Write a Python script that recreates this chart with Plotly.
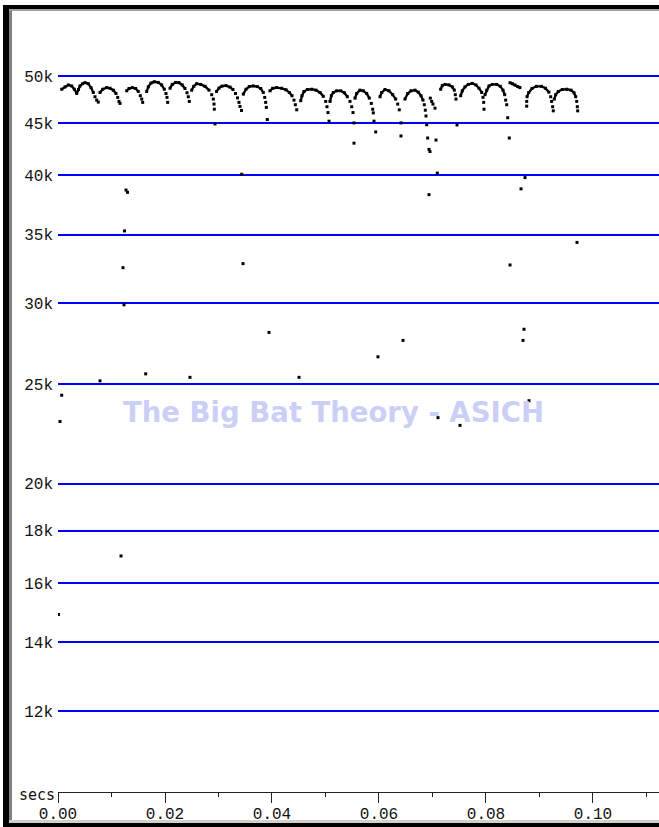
import plotly.graph_objects as go

# ---- data (time in ms, frequency in kHz) ----
# continuous crest parts of each pulse (None separates pulses)
crest_ms = [0.69, 1.31, 1.93, 2.56, 3.05, 3.50, 3.83, 4.11, 4.58, 5.05, 5.66, 6.17, 6.60, None,
            7.85, 8.36, 9.10, 9.72, 10.34, 10.84, None,
            12.84, 13.27, 13.89, 14.52, 15.01, None,
            16.58, 16.88, 17.38, 18.00, 18.75, 19.38, 19.87, None,
            20.94, 21.36, 22.00, 22.62, 23.23, 23.74, None,
            24.99, 25.37, 25.93, 26.67, 27.48, 28.23, None,
            29.63, 30.09, 30.65, 31.40, 32.15, 32.71, None,
            34.64, 35.14, 35.76, 36.51, 37.25, 37.89, 38.37, None,
            39.63, 40.13, 40.88, 41.81, 42.62, 43.24, 43.74, None,
            45.37, 45.61, 45.98, 46.60, 47.42, 48.23, 48.97, 49.59, None,
            50.84, 51.09, 51.46, 52.09, 52.84, 53.52, 54.08, None,
            55.52, 55.83, 56.45, 57.07, 57.70, 58.19, None,
            60.19, 60.51, 61.12, 61.87, 62.56, 63.12, None,
            64.86, 65.37, 65.98, 66.73, 67.35, 67.85, 68.23, None,
            71.53, 71.83, 72.34, 73.09, 73.70, 74.08, None,
            75.27, 75.57, 76.08, 76.69, 77.44, 78.13, 78.69, 79.20, None,
            79.81, 80.13, 80.56, 81.18, 82.00, 82.67, 83.18, 83.50, None,
            84.49, 84.92, 85.42, 85.92, 86.35, None,
            87.67, 87.99, 88.60, 89.43, 90.36, 91.11, 91.77, None,
            92.77, 93.03, 93.52, 94.26, 95.09, 95.89, 96.45, 96.77]
crest_khz = [48.54, 48.80, 49.01, 48.90, 48.54, 48.08, 48.51, 48.90, 49.15, 49.26, 49.15, 48.72, 48.19, None,
             48.19, 48.54, 48.72, 48.65, 48.44, 48.08, None,
             48.37, 48.62, 48.72, 48.62, 48.30, None,
             48.30, 48.80, 49.22, 49.36, 49.29, 49.01, 48.54, None,
             48.65, 49.07, 49.29, 49.26, 49.01, 48.62, None,
             48.44, 48.86, 49.15, 49.07, 48.86, 48.44, None,
             48.30, 48.67, 48.88, 48.94, 48.78, 48.51, None,
             48.01, 48.54, 48.83, 48.90, 48.83, 48.62, 48.19, None,
             48.37, 48.65, 48.72, 48.65, 48.48, 48.19, 47.84, None,
             47.31, 47.84, 48.30, 48.51, 48.54, 48.44, 48.19, 47.77, None,
             47.23, 47.84, 48.19, 48.37, 48.37, 48.16, 47.73, None,
             47.58, 48.08, 48.44, 48.37, 48.08, 47.58, None,
             47.73, 48.19, 48.51, 48.37, 47.95, 47.48, None,
             47.48, 48.08, 48.37, 48.44, 48.22, 47.84, 47.37, None,
             48.54, 48.94, 49.07, 49.01, 48.80, 48.44, None,
             47.84, 48.37, 48.80, 49.07, 49.18, 49.01, 48.65, 48.19, None,
             47.95, 48.44, 48.90, 49.07, 49.07, 48.86, 48.44, 47.95, None,
             49.26, 49.15, 49.01, 48.83, 48.72, None,
             47.73, 48.19, 48.62, 48.86, 48.86, 48.65, 48.22, None,
             47.48, 47.95, 48.30, 48.51, 48.54, 48.44, 48.16, 47.73]

# descending tail dots of each pulse
tail_ms = [6.92, 7.23, 7.53, 11.16, 11.40, 11.59, 15.38, 15.65, 15.83,
           20.19, 20.37, 20.50, 24.11, 24.36, 24.54,
           28.73, 29.03, 29.16, 29.22, 33.18, 33.55, 33.83, 34.02, 34.30,
           38.64, 38.82, 38.94, 39.12, 44.11, 44.36, 44.62,
           50.04, 50.28, 50.47, 50.66, 54.58, 54.90, 55.14, 55.33,
           58.56, 58.82, 58.94, 59.07, 63.50, 63.79, 64.11,
           68.47, 68.66, 68.79, 68.92, 69.59, 69.85, 70.09, 70.47,
           74.26, 74.39, 79.44, 79.57, 79.63, 83.68, 83.87, 84.06,
           87.61, 87.61, 92.09, 92.27, 92.46, 92.58, 96.96, 97.07, 97.14]
tail_khz = [47.73, 47.37, 47.16, 47.66, 47.23, 47.02, 47.84, 47.48, 47.13,
            48.08, 47.66, 47.13, 48.16, 47.73, 47.23,
            47.95, 47.48, 46.95, 46.41, 48.08, 47.61, 47.13, 46.70, 46.28,
            47.66, 47.13, 46.60, 45.35, 47.37, 46.88, 46.35,
            47.23, 46.67, 46.06, 45.18, 47.23, 46.67, 46.06, 45.00,
            47.02, 46.41, 46.03, 45.18, 46.95, 46.35, 45.00,
            46.88, 46.31, 45.71, 44.82, 47.58, 47.23, 46.95, 46.52,
            47.95, 47.48, 47.66, 47.13, 46.41, 47.37, 46.88, 45.53,
            47.23, 46.73, 47.73, 47.23, 46.67, 46.24, 47.23, 46.67, 46.24]

# isolated stray dots
stray_ms = [0.69, 0.37, 0.09, 7.85, 12.71, 12.99, 12.43, 12.15, 12.34, 11.78,
            16.39, 24.67, 29.35, 34.34, 34.58, 39.44, 45.05, 55.33, 59.38, 64.11,
            59.81, 64.49, 69.10, 69.35, 69.53, 70.66, 70.90, 69.35, 71.03, 75.14,
            74.58, 84.36, 84.49, 86.55, 87.30, 87.11, 86.92, 88.04, 97.01]
stray_khz = [24.4, 23.0, 14.9, 25.2, 38.7, 38.5, 35.3, 32.5, 29.9, 17.0,
             25.6, 25.4, 44.9, 40.1, 32.8, 28.1, 25.4, 43.0, 44.1, 43.7,
             26.6, 27.6, 43.5, 42.4, 42.2, 43.3, 40.2, 38.3, 23.2, 22.8,
             44.8, 43.5, 32.7, 38.8, 39.8, 28.3, 27.6, 24.1, 34.4]

x_ticks = [0.00, 0.02, 0.04, 0.06, 0.08, 0.10]
x_ticktext = ["0.00", "0.02", "0.04", "0.06", "0.08", "0.10"]
x_minor = [0.01, 0.03, 0.05, 0.07, 0.09, 0.11]
y_ticks = [12000, 14000, 16000, 18000, 20000, 25000, 30000, 35000, 40000, 45000, 50000]
y_ticktext = ["12k", "14k", "16k", "18k", "20k", "25k", "30k", "35k", "40k", "45k", "50k"]

def sec(v):
    return [None if a is None else a / 1000.0 for a in v]

def hz(v):
    return [None if a is None else a * 1000.0 for a in v]

fig = go.Figure()
fig.add_trace(go.Scatter(x=sec(crest_ms), y=hz(crest_khz), mode="lines+markers",
                         line=dict(color="black", width=2.3),
                         marker=dict(symbol="square", size=3, color="black", line=dict(width=0)),
                         connectgaps=False, hoverinfo="skip", showlegend=False))
fig.add_trace(go.Scatter(x=sec(tail_ms), y=hz(tail_khz), mode="markers",
                         marker=dict(symbol="square", size=3, color="black", line=dict(width=0)),
                         hoverinfo="skip", showlegend=False))
fig.add_trace(go.Scatter(x=sec(stray_ms), y=hz(stray_khz), mode="markers",
                         marker=dict(symbol="square", size=3, color="black", line=dict(width=0)),
                         hoverinfo="skip", showlegend=False))

W, H = 659, 827
L, R, T, B = 58, 0, 11, 35
pw, ph = W - L - R, H - T - B

def px(x):
    return (x - L) / pw

def py(y):
    return (H - B - y) / ph

mono = "Liberation Mono, DejaVu Sans Mono, monospace"

fig.update_layout(
    width=W, height=H, autosize=False,
    margin=dict(l=L, r=R, t=T, b=B, pad=0),
    paper_bgcolor="white", plot_bgcolor="white",
    xaxis=dict(range=[0, 0.11234], showgrid=False, zeroline=False,
               showline=True, linecolor="#222", linewidth=1,
               ticks="outside", ticklen=10, tickwidth=1, tickcolor="#222",
               tickvals=x_ticks, ticktext=x_ticktext, ticklabelstandoff=-3,
               tickfont=dict(family=mono, size=16, color="#111"),
               minor=dict(tickvals=x_minor, ticks="outside", ticklen=4,
                          tickcolor="#222", showgrid=False)),
    yaxis=dict(type="log", range=[4.0, 4.7625], showgrid=True,
               gridcolor="#0000ff", gridwidth=1.5, zeroline=False,
               showline=False, ticks="", ticklabelstandoff=4,
               tickvals=y_ticks, ticktext=y_ticktext,
               tickfont=dict(family=mono, size=16, color="#111")),
    annotations=[
        dict(text="The Big Bat Theory - ASICH", xref="paper", yref="paper",
             x=px(333), y=py(412), xanchor="center", yanchor="middle",
             showarrow=False,
             font=dict(family="DejaVu Sans, Verdana, sans-serif", size=27.5,
                       color="#cbcff6", weight="bold")),
        dict(text="secs", xref="paper", yref="paper", x=px(57), y=py(795),
             xanchor="right", yanchor="middle", showarrow=False,
             font=dict(family="DejaVu Sans Mono, monospace", size=15, color="#111")),
    ],
    shapes=[
        dict(type="rect", xref="paper", yref="paper", x0=px(3), x1=px(9), y0=py(827), y1=py(5),
             fillcolor="black", line=dict(width=0), layer="below"),
        dict(type="rect", xref="paper", yref="paper", x0=px(9), x1=px(12), y0=py(820), y1=py(9),
             fillcolor="#808080", line=dict(width=0), layer="below"),
        dict(type="rect", xref="paper", yref="paper", x0=px(3), x1=px(659), y0=py(9), y1=py(5),
             fillcolor="black", line=dict(width=0), layer="below"),
        dict(type="rect", xref="paper", yref="paper", x0=px(9), x1=px(659), y0=py(11), y1=py(9),
             fillcolor="#a0a0a0", line=dict(width=0), layer="below"),
        dict(type="rect", xref="paper", yref="paper", x0=px(9), x1=px(659), y0=py(823), y1=py(820),
             fillcolor="#d4d0c8", line=dict(width=0), layer="below"),
        dict(type="rect", xref="paper", yref="paper", x0=px(3), x1=px(659), y0=py(827), y1=py(823),
             fillcolor="black", line=dict(width=0), layer="below"),
    ],
)

fig.write_html("out.html", config={"displayModeBar": False},
               post_script="document.body.style.margin='0';document.body.style.overflow='hidden';")
